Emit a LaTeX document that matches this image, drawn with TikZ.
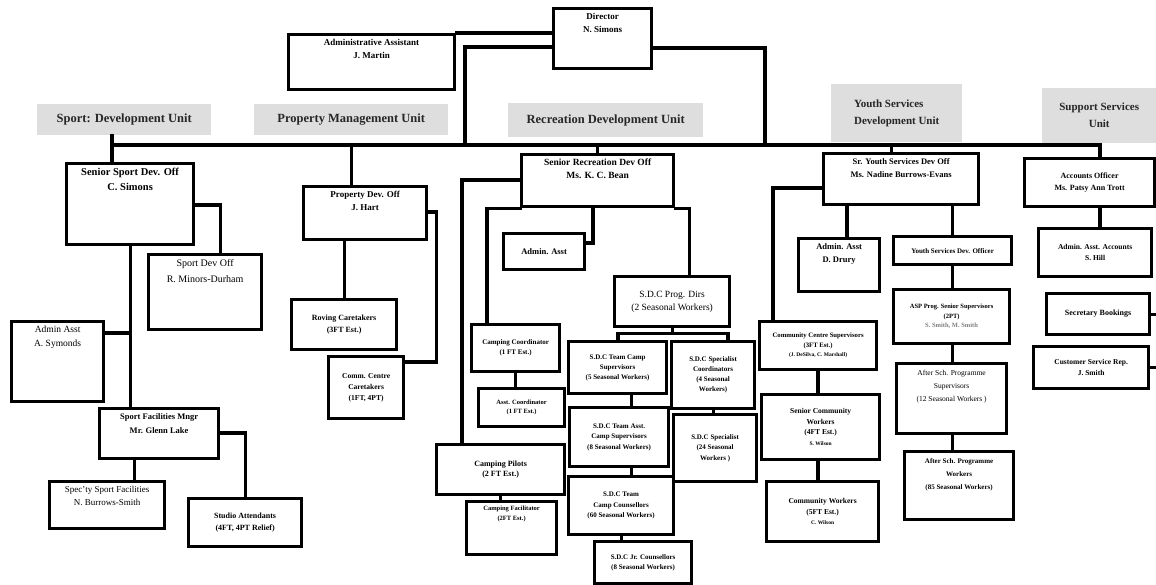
\documentclass[tikz,border=0pt]{standalone}
\usepackage{fontspec}
\setmainfont{Liberation Serif}
\usetikzlibrary{positioning}
\newcommand{\fsz}[2]{\fontsize{#1}{#2}\selectfont}
\tikzset{
  box/.style 2 args={draw, line width=3.2pt, fill=white, minimum width=#1, minimum height=#2,
    anchor=north west, inner sep=0pt, align=center},
  txt/.style={anchor=north, yshift=-6pt, align=center, inner sep=0pt, font=\bfseries\fsz{8}{11}},
  unit/.style 2 args={fill=black!13, text=black!85, minimum width=#1, minimum height=#2,
    anchor=north west, inner sep=0pt, align=center, font=\bfseries\fsz{12.5}{15}},
  link/.style={line width=3.2pt, line cap=rect},
}
\begin{document}
\begin{tikzpicture}[x=1pt, y=-1pt]
\path[fill=white, use as bounding box] (0,0) rectangle (1156,585);

% unit headings
\node[unit={174}{31}] (hsport) at (37,104) {Sport: Development Unit};
\node[unit={194}{31}] (hprop) at (254,104) {Property Management Unit};
\node[unit={195}{34}] (hrec) at (508,103) {Recreation Development Unit};
\node[unit={131}{58}, align=left, font=\bfseries\fsz{11}{17}] (hyouth) at (831,84) {Youth Services\\Development Unit};
\node[unit={114}{55}, font=\bfseries\fsz{11}{17}] (hsupp) at (1042,88) {Support Services\\Unit};

% top
\node[box={98}{60}, label={[txt, font=\bfseries\fsz{9}{13}]north:{Director\\N. Simons}}] (dir) at (552,7) {};
\node[box={166}{55}, label={[txt, font=\bfseries\fsz{9}{13}]north:{Administrative Assistant\\J. Martin}}] (adm) at (287,33) {};

% sport development
\node[box={127}{81}, label={[txt, font=\bfseries\fsz{10.5}{15}]north:{Senior Sport Dev. Off\\C. Simons}}] (ssdo) at (65,162) {};
\node[box={113}{75}, label={[txt, font=\fsz{10}{16}]north:{Sport Dev Off\\R. Minors-Durham}}] (sdo) at (147,253) {};
\node[box={92}{80}, label={[txt, font=\fsz{9.5}{14}]north:{Admin Asst\\A. Symonds}}] (aa1) at (10,320) {};
\node[box={119}{50}, label={[txt, font=\bfseries\fsz{8.5}{14}]north:{Sport Facilities Mngr\\Mr. Glenn Lake}}] (sfm) at (98,407) {};
\node[box={115}{47}, label={[txt, font=\fsz{9}{13}]north:{Spec'ty Sport Facilities\\N. Burrows-Smith}}] (ssf) at (48,480) {};
\node[box={113}{48}, font=\bfseries\fsz{8}{12}] (sa) at (187,497) {Studio Attendants\\(4FT, 4PT Relief)};

% property management
\node[box={123}{53}, label={[txt, font=\bfseries\fsz{9}{13}]north:{Property Dev. Off\\J. Hart}}] (pdo) at (302,185) {};
\node[box={105}{50}, font=\bfseries\fsz{8}{12}] (rc) at (290,298) {Roving Caretakers\\(3FT Est.)};
\node[box={75}{62}, font=\bfseries\fsz{7.5}{11}] (cc) at (327,355) {Comm. Centre\\Caretakers\\(1FT, 4PT)};

% recreation development
\node[box={152}{52}, label={[txt, font=\bfseries\fsz{9.5}{13}]north:{Senior Recreation Dev Off\\Ms. K. C. Bean}}] (srdo) at (520,153) {};
\node[box={81}{36}, font=\bfseries\fsz{8.5}{11}] (raa) at (502,232) {Admin. Asst};
\node[box={115}{50}, font=\fsz{9.5}{13}] (sdcp) at (613,275) {S.D.C Prog. Dirs\\(2 Seasonal Workers)};
\node[box={88}{47}, font=\bfseries\fsz{7}{10}] (ccoord) at (470,323) {Camping Coordinator\\(1 FT Est.)};
\node[box={86}{38}, font=\bfseries\fsz{6.5}{9}] (acoord) at (477,387) {Asst. Coordinator\\(1 FT Est.)};
\node[box={128}{50}, font=\bfseries\fsz{8}{10}] (cp) at (435,443) {Camping Pilots\\(2 FT Est.)};
\node[box={90}{53}, label={[txt, font=\bfseries\fsz{6.5}{9.5}]north:{Camping Facilitator\\(2FT Est.)}}] (cf) at (465,500) {};
\node[box={98}{52}, font=\bfseries\fsz{7}{10}] (tcs) at (567,340) {S.D.C Team Camp\\Supervisors\\(5 Seasonal Workers)};
\node[box={83}{67}, font=\bfseries\fsz{7}{10}] (spc) at (670,340) {S.D.C Specialist\\Coordinators\\(4 Seasonal\\Workers)};
\node[box={99}{59}, font=\bfseries\fsz{7}{10.5}] (tacs) at (568,406) {S.D.C Team Asst.\\Camp Supervisors\\(8 Seasonal Workers)};
\node[box={83}{67}, font=\bfseries\fsz{7}{10.5}] (sp24) at (672,413) {S.D.C Specialist\\(24 Seasonal\\Workers )};
\node[box={105}{58}, font=\bfseries\fsz{7}{10.5}] (tcc) at (567,475) {S.D.C Team\\Camp Counsellors\\(60 Seasonal Workers)};
\node[box={97}{42}, font=\bfseries\fsz{7}{10.5}] (jc) at (593,540) {S.D.C Jr. Counsellors\\(8 Seasonal Workers)};

% youth services development
\node[box={155}{51}, label={[txt, font=\bfseries\fsz{8.5}{13}]north:{Sr. Youth Services Dev Off\\Ms. Nadine Burrows-Evans}}] (sydo) at (822,152) {};
\node[box={81}{53}, label={[txt, font=\bfseries\fsz{8.5}{13}]north:{Admin. Asst\\D. Drury}}] (yaa) at (797,237) {};
\node[box={117}{48}, font=\bfseries\fsz{6.7}{9.5}] (ccs) at (758,320) {Community Centre Supervisors\\(3FT Est.)\\{\fsz{5.5}{7}(J. DeSilva, C. Marshall)}};
\node[box={118}{65}, font=\bfseries\fsz{7.5}{10.5}] (scw) at (760,393) {Senior Community\\Workers\\(4FT Est.)\\{\fsz{5.5}{7}S. Wilson}};
\node[box={112}{60}, font=\bfseries\fsz{7.5}{10.5}] (cw) at (765,480) {Community Workers\\(5FT Est.)\\{\fsz{5.5}{7}C. Wilson}};
\node[box={118}{28}, font=\bfseries\fsz{7}{9}] (ysdo) at (892,235) {Youth Services Dev. Officer};
\node[box={116}{54}, font=\bfseries\fsz{6.5}{9.5}] (asp) at (892,288) {ASP Prog. Senior Supervisors\\(2PT)\\\textcolor{gray}{S. Smith, M. Smith}};
\node[box={110}{70}, label={[txt, yshift=-2pt, font=\fsz{7.5}{13}]north:{After Sch. Programme\\Supervisors\\(12 Seasonal Workers )}}] (asps) at (895,362) {};
\node[box={109}{68}, label={[txt, yshift=-2pt, font=\bfseries\fsz{7}{13}]north:{After Sch. Programme\\Workers\\(85 Seasonal Workers)}}] (aspw) at (903,450) {};

% support services
\node[box={130}{48}, font=\bfseries\fsz{8}{12}] (ao) at (1023,157) {Accounts Officer\\Ms. Patsy Ann Trott};
\node[box={113}{48}, font=\bfseries\fsz{7.5}{11}] (aaa) at (1037,227) {Admin. Asst. Accounts\\S. Hill};
\node[box={103}{41}, font=\bfseries\fsz{8}{11}] (sb) at (1045,292) {Secretary Bookings};
\node[box={115}{42}, font=\bfseries\fsz{7.5}{11}] (csr) at (1032,345) {Customer Service Rep.\\J. Smith};

% main bus
\coordinate (busL) at (112,145);
\coordinate (busR) at (1100,145);
\coordinate (busA) at (465,145);
\coordinate (busB) at (765,145);
\draw[link] (busL) -- (busR);
\draw[link] (adm.north east) -- (adm.north east -| dir.west);
\draw[link] ([yshift=-40pt]dir.north west) -| (busA);
\draw[link] ([yshift=-41pt]dir.north east) -| (busB);
\draw[link] (hsport.south -| busL) -- (busL |- ssdo.north);
\draw[link] ([xshift=-14pt]pdo.north) -- ([xshift=-14pt]pdo.north |- busL);
\draw[link] (srdo.north) -- (srdo.north |- busL);
\draw[link] ([xshift=-10pt]sydo.north) -- ([xshift=-10pt]sydo.north |- busL);
\draw[link] (busR) -- (busR |- ao.north);

% sport
\draw[link] ([yshift=-43pt]ssdo.north east) -| ([xshift=15pt]sdo.north);
\draw[link] (ssdo.south) -- (ssdo.south |- sfm.north);
\draw[link] ([yshift=-13pt]aa1.north east) -- ([yshift=-13pt]aa1.north -| ssdo.south);
\draw[link] ([xshift=-25pt]sfm.south) -- ([xshift=-25pt]sfm.south |- ssf.north);
\draw[link] ([yshift=-26pt]sfm.north east) -| (sa.north);

% property
\draw[link] (rc.north) -- (rc.north |- pdo.south);
\draw[link] ([yshift=-27pt]pdo.north east) -- ++(8pt,0) |- ([yshift=-7pt]cc.north east);

% recreation
\draw[link] ([yshift=-27pt]srdo.north west) -| ([xshift=27pt]cp.north west);
\draw[link] (srdo.south west) -| ([xshift=17pt]ccoord.north west);
\draw[link] ([xshift=73pt]srdo.south west) |- ([yshift=-11pt]raa.north east);
\draw[link] (srdo.south east) -| ([xshift=17.5pt]sdcp.north);
\draw[link] (ccoord.south) -- (ccoord.south |- acoord.north);
\draw[link] (cp.south) -- (cp.south |- cf.north);
\draw[link] (sdcp.south) -- ([yshift=-5pt]sdcp.south);
\draw[link] ([xshift=51pt]tcs.north west) |- ([yshift=-5pt]sdcp.south) -| ([xshift=58pt]spc.north west);
\draw[link] ([xshift=14pt]tcs.south) -- ([xshift=14pt]tcs.south |- tacs.north);
\draw[link] (spc.south) -- (spc.south |- sp24.north);
\draw[link] ([xshift=12pt]tacs.south) -- ([xshift=12pt]tacs.south |- tcc.north);
\draw[link] (tcc.south) -- (tcc.south |- jc.north);

% youth
\draw[link] ([xshift=25pt]sydo.south west) -- ([xshift=25pt]sydo.south west |- yaa.north);
\draw[link] ([yshift=-36pt]sydo.north west) -| ([xshift=15pt]ccs.north west);
\draw[link] ([xshift=60pt]ccs.south west) -- ([xshift=60pt]ccs.south west |- scw.north);
\draw[link] ([xshift=60pt]ccs.south west |- scw.south) -- ([xshift=60pt]ccs.south west |- cw.north);
\draw[link] (ysdo.north) -- (ysdo.north |- sydo.south);
\draw[link] (ysdo.south) -- (ysdo.south |- asp.north);
\draw[link] (ysdo.south |- asp.south) -- (ysdo.south |- asps.north);
\draw[link] (ysdo.south |- asps.south) -- (ysdo.south |- aspw.north);

% support
\draw[link] (busR |- ao.south) -- (busR |- aaa.north);
\draw[link] (ao.east) -- ++(6pt,0) |- (csr.east);
\draw[link] (sb.east) -- ++(8pt,0);
\end{tikzpicture}
\end{document}
